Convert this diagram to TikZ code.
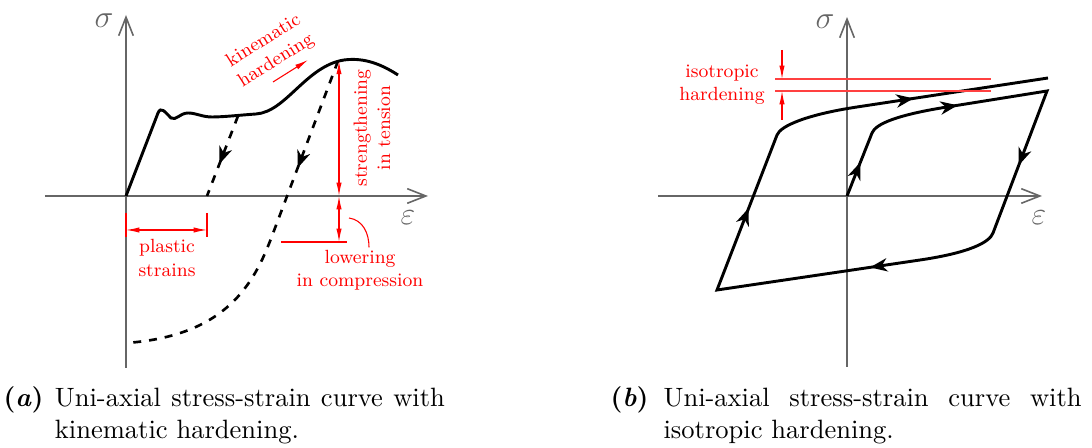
\documentclass[tikz,border=0pt]{standalone}
\usepackage{amsmath,amssymb}
\usepackage{tikz}
\usetikzlibrary{arrows.meta,decorations.markings,positioning}
\def\looptip{\arrow{Stealth[length=6.5pt,width=5pt,inset=2pt]}}

\begin{document}
\begin{tikzpicture}[x=0.377pt,y=0.377pt,
  axis/.style={black!60,line width=0.6pt,-{Straight Barb[length=7pt,width=5.5pt]}},
  curve/.style={line width=1.1pt},
  unload/.style={line width=1pt,dashed},
  redline/.style={red,line width=0.4pt},
  dimarrow/.style={redline,{Latex[length=5pt,width=2pt]}-{Latex[length=5pt,width=2pt]}},
  redarrow/.style={redline,-{Latex[length=5pt,width=2pt]}},
  lbl/.style={red,font=\small,scale=0.8,align=center,inner sep=1pt},
  axlbl/.style={black!60,font=\large,inner sep=1pt},
  arrowat/.style={postaction={decorate},
    decoration={markings,mark=at position #1 with {\looptip}}},
  capnode/.style={inner sep=0pt}]
\useasboundingbox (-126,-252) rectangle (966,196);
% kinematic hardening
\draw[axis] (-81,0) -- (302,0);
\draw[axis] (0,-172) -- (0,181);
\node[axlbl] (sigA) at (-22,175) {$\sigma$};
\node[axlbl] (epsA) at (282,-22) {$\varepsilon$};
\draw[curve] (0,0) -- (32,83) .. controls (35,90) and (39,84) .. (45,78)
  .. controls (50,75) and (54,83) .. (62,83) .. controls (70,83) and (76,79) .. (86,79)
  .. controls (98,79) and (115,81) .. (130,82) .. controls (160,84) and (180,130) .. (218,136)
  .. controls (240,139) and (258,130) .. (272,121);
\coordinate (ulA) at (112,80);
\coordinate (plA) at (81,0);
\draw[unload,arrowat=0.6] (ulA) -- (plA);
\coordinate (pkA) at (212,135);
\draw[unload,arrowat=0.3] (pkA) -- (146,-40) .. controls (128,-88) and (100,-140) .. (0,-147);
% red labels, left
\coordinate (topA) at (213,135);
\coordinate (zeroA) at (213,0);
\coordinate (lowA) at (213,-46);
\coordinate (lowL) at (155,-46);
\coordinate (lowR) at (221,-46);
\draw[dimarrow] (topA) -- (zeroA);
\draw[dimarrow] (zeroA) -- (lowA);
\draw[redline] (lowL) -- (lowR);
\node[lbl,rotate=90] (tensA) at (246,68) {strengthening\\in tension};
\node[lbl] (compA) at (234,-74) {lowering\\in compression};
\coordinate (compPin) at (223,-22);
\draw[redline] (compPin) .. controls +(14,-2) and +(0,14) .. ([xshift=3.4pt]compA.north);
\coordinate (psL) at (0,-34);
\coordinate (psR) at (81,-34);
\draw[redline] (0,-17) -- (0,-41);
\draw[redline] (81,-17) -- (81,-41);
\draw[dimarrow] (psL) -- (psR);
\node[lbl] (psA) at (41,-62) {plastic\\strains};
\node[lbl,rotate=32] (kinA) at (144,145) {kinematic\\hardening};
\coordinate (kinS) at (147,114);
\coordinate (kinE) at (182,136);
\draw[redarrow] (kinS) -- (kinE);
% isotropic hardening
\begin{scope}[shift={(721,0)}]
\draw[axis] (-189,0) -- (195,0);
\draw[axis] (0,-171) -- (0,179);
\node[axlbl] (sigB) at (-22,174) {$\sigma$};
\node[axlbl] (epsB) at (192,-22) {$\varepsilon$};
\draw[curve,postaction={decorate},decoration={markings,
    mark=at position 0.032 with {\looptip},
    mark=at position 0.141 with {\looptip},
    mark=at position 0.291 with {\looptip},
    mark=at position 0.470 with {\looptip},
    mark=at position 0.684 with {\looptip},
    mark=at position 0.880 with {\looptip}}]
  (0,0) -- (25,63) .. controls (28.7,72.3) and (50.6,81.1) .. (100,89) -- (200,105)
  -- (146,-37) .. controls (142.5,-46.4) and (122.5,-56.7) .. (73,-64) -- (-130,-94)
  -- (-70,61) .. controls (-66.4,70.3) and (-39.5,81.5) .. (10,89) -- (201,118);
% red labels, right
\coordinate (isoT1) at (-72,117);
\coordinate (isoT2) at (144,117);
\coordinate (isoB1) at (-72,105);
\coordinate (isoB2) at (144,105);
\draw[redline,red!75] (isoT1) -- (isoT2);
\draw[redline,red!75] (isoB1) -- (isoB2);
\draw[redarrow] (-65,146) -- (-65,117);
\draw[redarrow] (-65,76) -- (-65,105);
\node[lbl] (isoB) at (-125,111) {isotropic\\hardening};
\end{scope}
% captions
\node[capnode,anchor=base west] (capA) at (-123,-211) {\textbf{(\textit{a})}};
\node[capnode,text width=147pt,align=justify,base right=3.9pt of capA] (capAtxt)
  {Uni-axial stress-strain curve with kinematic hardening.};
\node[capnode,anchor=base west] (capB) at (484,-211) {\textbf{(\textit{b})}};
\node[capnode,text width=157.6pt,align=justify,base right=5.3pt of capB] (capBtxt)
  {Uni-axial stress-strain curve with isotropic hardening.};
\end{tikzpicture}
\end{document}
